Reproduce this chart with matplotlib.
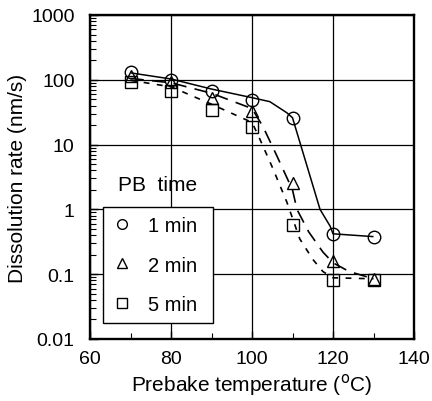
import matplotlib
matplotlib.use("Agg")
import matplotlib.pyplot as plt
from matplotlib.lines import Line2D

plt.rcParams['font.family'] = ['Liberation Sans', 'DejaVu Sans']

# measured points
temps = [70, 80, 90, 100, 110, 120, 130]
rate_1min = [132, 100, 67, 49, 26, 0.42, 0.37]
rate_2min = [115, 92, 52, 33, 2.6, 0.16, 0.085]
rate_5min = [93, 67, 34, 19, 0.58, 0.082, 0.082]

# guide curves
curve1_t = [70, 80, 90, 100, 104.4, 108.6, 110, 116.8, 119.3, 120, 130]
curve1_r = [128, 103, 72, 53, 46, 31, 26, 1.0, 0.55, 0.42, 0.38]
curve2_t = [70, 80, 90, 100, 102.7, 106, 110, 111.1, 114, 117.5, 120, 124, 130]
curve2_r = [105, 90, 62, 36, 19, 7, 2.0, 1.0, 0.45, 0.22, 0.15, 0.11, 0.085]
curve5_t = [70, 80, 90, 100, 101.5, 105, 108.6, 111.8, 115, 117.5, 120, 130]
curve5_r = [98, 78, 42, 22, 14, 4.5, 1.3, 0.35, 0.17, 0.11, 0.088, 0.085]

legend_labels = ['1 min', '2 min', '5 min']
xticks = [60, 80, 100, 120, 140]
yticks = [0.01, 0.1, 1, 10, 100, 1000]
ytick_labels = ['0.01', '0.1', '1', '10', '100', '1000']

fig = plt.figure(figsize=(4.32, 4.02), dpi=100)
ax = fig.add_axes([90/432, 62/402, 324/432, 324/402])

ax.set_yscale('log')
ax.set_xlim(60, 140)
ax.set_ylim(0.01, 1000)

ax.grid(True, which='major', color='black', linewidth=0.9)
ax.set_axisbelow(True)

ax.plot(curve1_t, curve1_r, color='black', linewidth=1.1, solid_capstyle='butt')
ax.plot(curve2_t, curve2_r, color='black', linewidth=1.2, dashes=(8, 5))
ax.plot(curve5_t, curve5_r, color='black', linewidth=1.2, dashes=(3.5, 4.5))

ms = 9
ax.plot(temps, rate_1min, linestyle='none', marker='o', markersize=ms,
        markerfacecolor='none', markeredgecolor='black', markeredgewidth=1.0)
ax.plot(temps, rate_2min, linestyle='none', marker='^', markersize=ms,
        markerfacecolor='none', markeredgecolor='black', markeredgewidth=1.0)
ax.plot(temps, rate_5min, linestyle='none', marker='s', markersize=ms,
        markerfacecolor='none', markeredgecolor='black', markeredgewidth=1.0)

ax.set_xticks(xticks)
ax.set_xticklabels([str(x) for x in xticks])
ax.set_xticks([70, 90, 110, 130], minor=True)
ax.set_yticks(yticks)
ax.set_yticklabels(ytick_labels)
ax.tick_params(axis='both', which='major', direction='in', length=6, width=1,
               labelsize=14, pad=8)
ax.tick_params(axis='both', which='minor', direction='in', length=4, width=0.8)
ax.tick_params(axis='y', which='major', pad=11)

for s in ax.spines.values():
    s.set_linewidth(1.7)

ax.set_xlabel('Prebake temperature ($^{\\rm o}$C)', fontsize=15, labelpad=3)
ax.set_ylabel('Dissolution rate (nm/s)', fontsize=15, labelpad=3)

handles = [
    Line2D([], [], linestyle='none', marker='o', markersize=7, markerfacecolor='none',
           markeredgecolor='black'),
    Line2D([], [], linestyle='none', marker='^', markersize=7, markerfacecolor='none',
           markeredgecolor='black'),
    Line2D([], [], linestyle='none', marker='s', markersize=7, markerfacecolor='none',
           markeredgecolor='black'),
]
leg = ax.legend(handles, legend_labels, loc='lower left',
                bbox_to_anchor=(0.04, 0.049, 0.34, 0.358), mode='expand',
                fontsize=14.5, frameon=True, fancybox=False, edgecolor='black',
                framealpha=1, labelspacing=1.02, handlelength=1.0,
                handletextpad=0.8, borderpad=0.45, borderaxespad=0)
leg.get_frame().set_linewidth(1.0)
ax.text(0.207, 0.478, 'PB  time', transform=ax.transAxes, fontsize=15,
        ha='center', va='center')

fig.savefig('out.png', dpi=100)
